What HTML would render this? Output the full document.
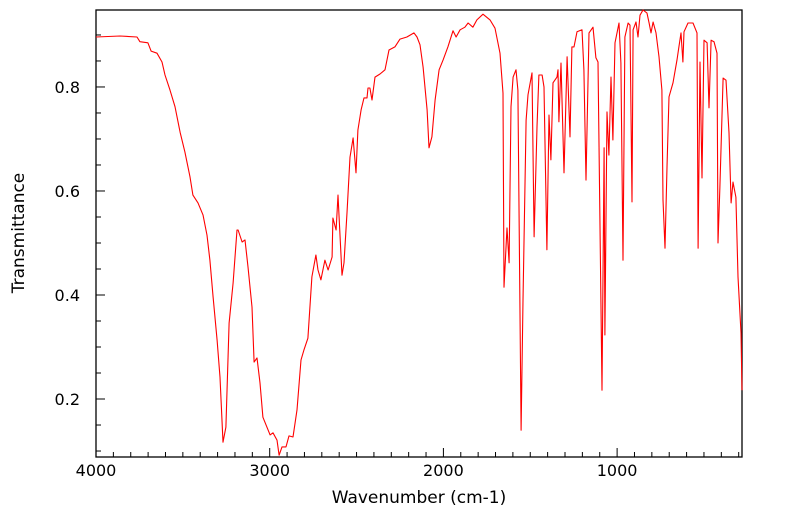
<!DOCTYPE html>
<html><head><meta charset="utf-8"><style>
body{margin:0;background:#fff;}
svg{display:block;font-family:"DejaVu Sans","Liberation Sans",sans-serif;}
</style></head><body>
<svg id="chart" width="799" height="516" viewBox="0 0 799 516">
<g id="axes"></g>
<g id="series"></g>
<text x="419" y="503" font-size="17" text-anchor="middle">Wavenumber (cm-1)</text>
<text transform="translate(24,233) rotate(-90)" font-size="17" text-anchor="middle">Transmittance</text>
</svg>
<script>
const wavenumbers=[4000,3862,3764,3747,3701,3683,3649,3620,3603,3574,3545,3516,3488,3459,3442,3413,3384,3361,3344,3326,3303,3286,3269,3252,3234,3211,3188,3182,3159,3142,3125,3102,3090,3073,3056,3039,2998,2981,2958,2946,2929,2906,2889,2866,2843,2820,2803,2780,2757,2734,2722,2705,2682,2664,2641,2636,2618,2607,2584,2572,2555,2538,2520,2503,2492,2474,2457,2440,2434,2423,2411,2394,2365,2336,2313,2279,2250,2210,2169,2152,2135,2117,2094,2083,2066,2048,2025,2002,1974,1945,1927,1904,1876,1858,1830,1807,1772,1732,1703,1674,1657,1651,1634,1622,1611,1599,1582,1571,1553,1542,1524,1513,1490,1478,1461,1450,1432,1421,1404,1392,1381,1369,1346,1340,1335,1323,1306,1288,1271,1260,1248,1231,1202,1191,1179,1162,1139,1122,1110,1087,1075,1070,1058,1047,1035,1024,1012,989,978,966,955,937,926,914,908,891,880,868,851,828,816,805,793,776,759,742,736,724,713,701,678,655,644,632,621,615,592,563,540,534,523,511,500,482,471,459,442,425,419,408,390,373,356,344,333,316,304,287,281];
const transmittance=[0.896,0.898,0.896,0.887,0.885,0.869,0.865,0.848,0.823,0.794,0.762,0.713,0.675,0.627,0.592,0.577,0.554,0.515,0.467,0.396,0.313,0.242,0.117,0.146,0.346,0.423,0.525,0.525,0.502,0.506,0.454,0.377,0.271,0.279,0.231,0.165,0.131,0.135,0.121,0.092,0.108,0.108,0.129,0.127,0.179,0.275,0.294,0.317,0.435,0.477,0.448,0.429,0.467,0.448,0.473,0.548,0.525,0.592,0.438,0.462,0.558,0.665,0.702,0.635,0.717,0.756,0.779,0.779,0.798,0.798,0.775,0.819,0.825,0.833,0.871,0.877,0.892,0.896,0.904,0.896,0.881,0.838,0.756,0.683,0.704,0.775,0.833,0.852,0.877,0.908,0.896,0.910,0.915,0.923,0.915,0.929,0.940,0.929,0.913,0.865,0.788,0.415,0.529,0.462,0.762,0.819,0.833,0.794,0.140,0.390,0.736,0.785,0.827,0.512,0.723,0.823,0.823,0.800,0.487,0.746,0.660,0.808,0.819,0.833,0.733,0.846,0.635,0.858,0.704,0.877,0.877,0.906,0.910,0.833,0.621,0.904,0.915,0.856,0.848,0.217,0.683,0.323,0.752,0.669,0.819,0.698,0.885,0.923,0.846,0.467,0.896,0.923,0.919,0.579,0.910,0.925,0.896,0.938,0.948,0.942,0.923,0.904,0.925,0.904,0.858,0.794,0.583,0.490,0.646,0.781,0.808,0.852,0.877,0.904,0.848,0.906,0.923,0.923,0.904,0.490,0.848,0.625,0.890,0.885,0.760,0.890,0.887,0.865,0.500,0.608,0.817,0.813,0.712,0.577,0.617,0.588,0.435,0.327,0.217];
const xTickLabels=[4000,3000,2000,1000];
const yTickLabels=[0.2,0.4,0.6,0.8];

const L=96,R=742,T=10,B=457;
const xDom=[4000,281],yDom=[0.0885,0.948];
function xs(v){return L+(v-xDom[0])/(xDom[1]-xDom[0])*(R-L);}
function ys(v){return B-(v-yDom[0])/(yDom[1]-yDom[0])*(B-T);}
const NS="http://www.w3.org/2000/svg";
const axes=document.getElementById('axes');
function mk(tag,attrs,parent){const e=document.createElementNS(NS,tag);for(const k in attrs)e.setAttribute(k,attrs[k]);parent.appendChild(e);return e;}

const frame=mk('rect',{x:L,y:T,width:R-L,height:B-T,fill:'none',stroke:'#000','stroke-width':1.3},axes);



for(let w=4000;w>=300;w-=100){
  const major=w%1000===0;
  const t=mk('line',{x1:xs(w),x2:xs(w),y1:B,y2:B-(major?9:5),stroke:'#000','stroke-width':1},axes);
  
  
}
xTickLabels.forEach(v=>{
  const t=mk('text',{x:xs(v),y:476,'font-size':16,'text-anchor':'middle'},axes);
  t.textContent=v;
  
  
});
for(let i=2;i<=18;i++){
  const v=i*0.05;
  if(ys(v)<T||ys(v)>B)continue;
  const major=i%4===0;
  const t=mk('line',{x1:L,x2:L+(major?9:5),y1:ys(v),y2:ys(v),stroke:'#000','stroke-width':1},axes);
  
  
}
yTickLabels.forEach(v=>{
  const t=mk('text',{x:80,y:ys(v)+6,'font-size':16,'text-anchor':'end'},axes);
  t.textContent=v.toFixed(1);
  
  
});

const series=document.getElementById('series');
const d=wavenumbers.map((w,i)=>(i?'L':'M')+xs(w).toFixed(1)+','+ys(transmittance[i]).toFixed(1)).join(' ');
const p=mk('path',{d:d,fill:'none',stroke:'#ff0000','stroke-width':1.1,'stroke-linejoin':'round'},series);


</script>
</body></html>
